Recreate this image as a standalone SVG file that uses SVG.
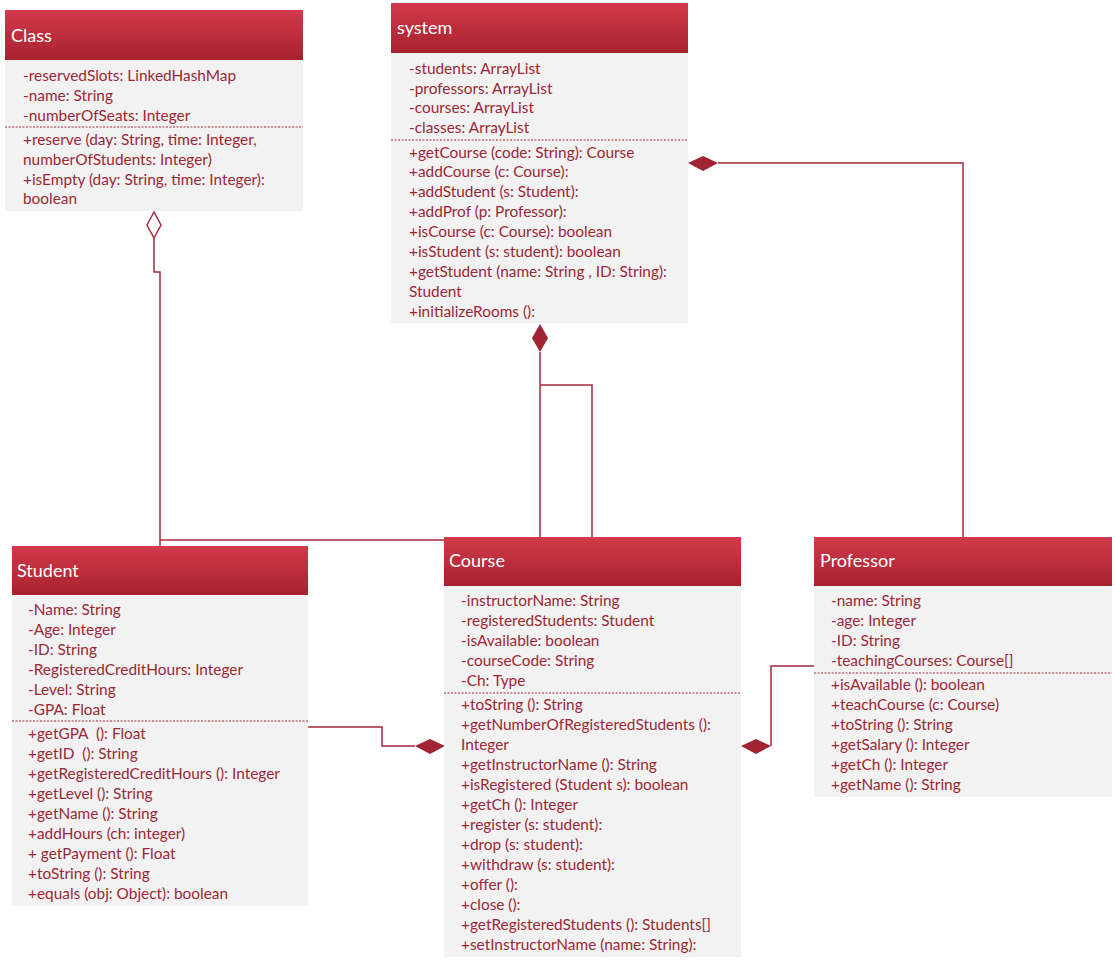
<svg xmlns="http://www.w3.org/2000/svg" width="1115" height="963" viewBox="0 0 1115 963">
<defs>
<linearGradient id="hdr" x1="0" y1="0" x2="0" y2="1">
<stop offset="0" stop-color="#d23a4b"/>
<stop offset="1" stop-color="#a6222f"/>
</linearGradient>
<style>
.hdr{fill:url(#hdr)}
.body{fill:#f2f2f2}
.ht{font-family:Lato,"Liberation Sans",sans-serif;font-size:18px;fill:#ffffff}
.bt{font-family:Lato,"Liberation Sans",sans-serif;font-size:15.4px;fill:#9b2836;white-space:pre}
.dash{stroke:#a52a3a;stroke-width:1;stroke-dasharray:2 1.5;fill:none}
.con{stroke:#a52a3a;stroke-width:1.5;fill:none}
.fd{fill:#a02432;stroke:none}
.hd{fill:#ffffff;stroke:#a52a3a;stroke-width:1.5}
</style>
</defs>
<rect width="1115" height="963" fill="#ffffff"/>

<g id="connectors">
<path class="con" d="M160,546 V272 H154 V238"/>
<path class="hd" d="M154,212 L161,225 L154,238 L147,225 Z"/>
<path class="con" d="M540,352 V540 H160"/>
<path class="con" d="M540,385 H592 V537"/>
<path class="fd" d="M540,324 L548,338 L540,352 L532,338 Z"/>
<path class="con" d="M718,163 H963 V537"/>
<path class="fd" d="M688,163 L703,156 L718,163 L703,171 Z"/>
<path class="con" d="M308,727 H382 V746 H415"/>
<path class="fd" d="M415,746 L430,739 L445,746 L430,754 Z"/>
<path class="con" d="M771,746 V666 H814"/>
<path class="fd" d="M741,746 L756,739 L771,746 L756,754 Z"/>
</g>

<g id="class">
<rect class="body" x="5" y="60" width="298" height="151"/>
<rect class="hdr" x="5" y="10" width="298" height="50"/>
<text class="ht" x="11" y="42">Class</text>
<text class="bt" x="23" y="81">-reservedSlots: LinkedHashMap</text>
<text class="bt" x="23" y="101">-name: String</text>
<text class="bt" x="23" y="121">-numberOfSeats: Integer</text>
<line class="dash" x1="5" y1="127" x2="303" y2="127"/>
<text class="bt" x="23" y="145">+reserve (day: String, time: Integer,</text>
<text class="bt" x="23" y="165">numberOfStudents: Integer)</text>
<text class="bt" x="23" y="185">+isEmpty (day: String, time: Integer):</text>
<text class="bt" x="23" y="204">boolean</text>
</g>

<g id="system">
<rect class="body" x="391" y="53" width="297" height="270"/>
<rect class="hdr" x="391" y="3" width="297" height="50"/>
<text class="ht" x="397" y="34">system</text>
<text class="bt" x="409" y="74">-students: ArrayList</text>
<text class="bt" x="409" y="94">-professors: ArrayList</text>
<text class="bt" x="409" y="113">-courses: ArrayList</text>
<text class="bt" x="409" y="133">-classes: ArrayList</text>
<line class="dash" x1="391" y1="140" x2="688" y2="140"/>
<text class="bt" x="409" y="158">+getCourse (code: String): Course</text>
<text class="bt" x="409" y="177">+addCourse (c: Course):</text>
<text class="bt" x="409" y="197">+addStudent (s: Student):</text>
<text class="bt" x="409" y="217">+addProf (p: Professor):</text>
<text class="bt" x="409" y="237">+isCourse (c: Course): boolean</text>
<text class="bt" x="409" y="257">+isStudent (s: student): boolean</text>
<text class="bt" x="409" y="277">+getStudent (name: String , ID: String):</text>
<text class="bt" x="409" y="297">Student</text>
<text class="bt" x="409" y="317">+initializeRooms ():</text>
</g>

<g id="student">
<rect class="body" x="12" y="595" width="296" height="311"/>
<rect class="hdr" x="12" y="546" width="296" height="49"/>
<text class="ht" x="17" y="577">Student</text>
<text class="bt" x="28" y="615">-Name: String</text>
<text class="bt" x="28" y="635">-Age: Integer</text>
<text class="bt" x="28" y="655">-ID: String</text>
<text class="bt" x="28" y="675">-RegisteredCreditHours: Integer</text>
<text class="bt" x="28" y="695">-Level: String</text>
<text class="bt" x="28" y="715">-GPA: Float</text>
<line class="dash" x1="12" y1="721" x2="308" y2="721"/>
<text class="bt" x="28" y="739">+getGPA  (): Float</text>
<text class="bt" x="28" y="759">+getID  (): String</text>
<text class="bt" x="28" y="779">+getRegisteredCreditHours (): Integer</text>
<text class="bt" x="28" y="799">+getLevel (): String</text>
<text class="bt" x="28" y="819">+getName (): String</text>
<text class="bt" x="28" y="839">+addHours (ch: integer)</text>
<text class="bt" x="28" y="859">+ getPayment (): Float</text>
<text class="bt" x="28" y="879">+toString (): String</text>
<text class="bt" x="28" y="899">+equals (obj: Object): boolean</text>
</g>

<g id="course">
<rect class="body" x="444" y="586" width="297" height="371"/>
<rect class="hdr" x="444" y="537" width="297" height="49"/>
<text class="ht" x="449" y="567">Course</text>
<text class="bt" x="461" y="606">-instructorName: String</text>
<text class="bt" x="461" y="626">-registeredStudents: Student</text>
<text class="bt" x="461" y="646">-isAvailable: boolean</text>
<text class="bt" x="461" y="666">-courseCode: String</text>
<text class="bt" x="461" y="686">-Ch: Type</text>
<line class="dash" x1="444" y1="693" x2="741" y2="693"/>
<text class="bt" x="461" y="710">+toString (): String</text>
<text class="bt" x="461" y="730">+getNumberOfRegisteredStudents ():</text>
<text class="bt" x="461" y="750">Integer</text>
<text class="bt" x="461" y="770">+getInstructorName (): String</text>
<text class="bt" x="461" y="790">+isRegistered (Student s): boolean</text>
<text class="bt" x="461" y="810">+getCh (): Integer</text>
<text class="bt" x="461" y="830">+register (s: student):</text>
<text class="bt" x="461" y="850">+drop (s: student):</text>
<text class="bt" x="461" y="870">+withdraw (s: student):</text>
<text class="bt" x="461" y="890">+offer ():</text>
<text class="bt" x="461" y="910">+close ():</text>
<text class="bt" x="461" y="930">+getRegisteredStudents (): Students[]</text>
<text class="bt" x="461" y="950">+setInstructorName (name: String):</text>
</g>

<g id="professor">
<rect class="body" x="814" y="586" width="298" height="211"/>
<rect class="hdr" x="814" y="537" width="298" height="49"/>
<text class="ht" x="820" y="567">Professor</text>
<text class="bt" x="831" y="606">-name: String</text>
<text class="bt" x="831" y="626">-age: Integer</text>
<text class="bt" x="831" y="646">-ID: String</text>
<text class="bt" x="831" y="666">-teachingCourses: Course[]</text>
<line class="dash" x1="814" y1="673" x2="1112" y2="673"/>
<text class="bt" x="831" y="690">+isAvailable (): boolean</text>
<text class="bt" x="831" y="710">+teachCourse (c: Course)</text>
<text class="bt" x="831" y="730">+toString (): String</text>
<text class="bt" x="831" y="750">+getSalary (): Integer</text>
<text class="bt" x="831" y="770">+getCh (): Integer</text>
<text class="bt" x="831" y="790">+getName (): String</text>
</g>
</svg>
